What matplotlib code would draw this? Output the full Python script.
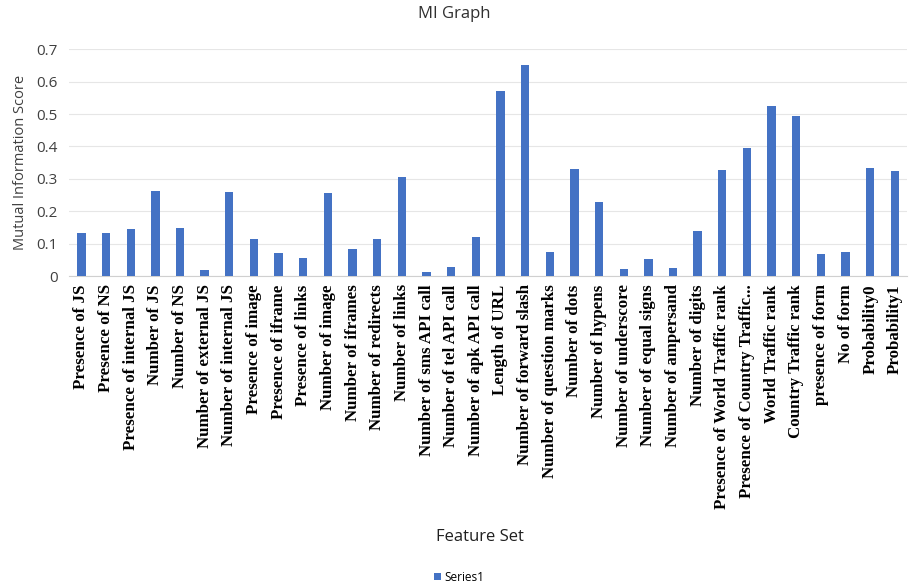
"""
MI graph: mutual information score per feature.
"""
import matplotlib
matplotlib.use("Agg")
import matplotlib.pyplot as plt

features = [
    "Presence of JS", "Presence of NS", "Presence of internal JS", "Number of JS",
    "Number of NS", "Number of external JS", "Number of internal JS",
    "Presence of image", "Presence of iframe", "Presence of links",
    "Number of image", "Number of iframes", "Number of redirects",
    "Number of links", "Number of sms API call", "Number of tel API call",
    "Number of apk API call", "Length of URL", "Number of forward slash",
    "Number of question marks", "Number of dots", "Number of hypens",
    "Number of underscore", "Number of equal signs", "Number of ampersand",
    "Number of digits", "Presence of World Traffic rank",
    "Presence of Country Traffic...", "World Traffic rank",
    "Country Traffic rank", "presence of form", "No of form",
    "Probability0", "Probability1",
]
mi_scores = [
    0.134, 0.134, 0.144, 0.262, 0.147, 0.018, 0.259, 0.113, 0.070, 0.056,
    0.256, 0.083, 0.113, 0.306, 0.011, 0.029, 0.120, 0.571, 0.650, 0.073,
    0.331, 0.228, 0.022, 0.051, 0.025, 0.140, 0.327, 0.395, 0.524, 0.493,
    0.069, 0.073, 0.334, 0.324,
]

fig = plt.figure(figsize=(9.09, 5.86), dpi=100)
ax = fig.add_axes([0.076, 0.529, 0.922, 0.387])

x = range(len(features))
ax.bar(x, mi_scores, width=0.34, color="#4472C4", label="Series1", zorder=3)

ax.set_xlim(-0.5, len(features) - 0.5)
ax.set_ylim(0, 0.7)
ax.set_yticks([0, 0.1, 0.2, 0.3, 0.4, 0.5, 0.6, 0.7])
ax.set_yticklabels(["0", "0.1", "0.2", "0.3", "0.4", "0.5", "0.6", "0.7"],
                   fontsize=11, family="Open Sans", color="#404040")
ax.set_xticks(list(x))
ax.set_xticklabels(features, rotation=90, fontsize=12.2,
                   family="Liberation Serif", fontweight="bold")
ax.tick_params(axis="both", length=0)
ax.tick_params(axis="x", pad=6)
ax.tick_params(axis="y", pad=8)
ax.grid(axis="y", color="#e6e6e6", linewidth=0.8, zorder=0)
for side in ["top", "right", "left"]:
    ax.spines[side].set_visible(False)
ax.spines["bottom"].set_color("#d0d0d0")

ax.set_ylabel("Mutual Information Score", fontsize=10.5, family="Open Sans",
              color="#404040", labelpad=6)
fig.text(0.5, 0.976, "MI Graph", ha="center", va="center", fontsize=12,
         family="Open Sans", color="#303030")
fig.text(0.528, 0.083, "Feature Set", ha="center", va="center", fontsize=12,
         family="Open Sans", color="#202020")
fig.legend(loc="center", bbox_to_anchor=(0.505, 0.015), frameon=False,
           prop={"family": "Open Sans", "size": 8.5}, handlelength=0.6,
           handleheight=0.6, handletextpad=0.3)

plt.savefig("out.png", dpi=100)
